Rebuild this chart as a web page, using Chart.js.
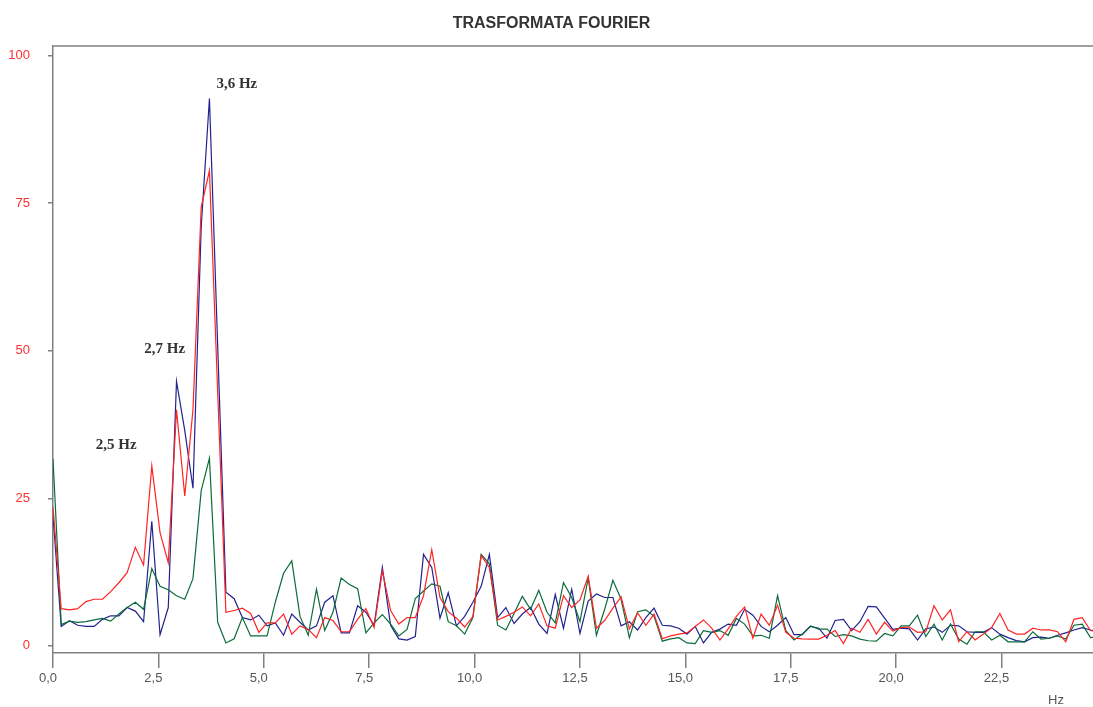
<!DOCTYPE html>
<html>
<head>
<meta charset="utf-8">
<title>Trasformata Fourier</title>
<script src="https://cdn.jsdelivr.net/npm/chart.js@4.4.0/dist/chart.umd.min.js"></script>
<style>
    html, body { margin: 0; padding: 0; background: #fff; }
    #wrapper { width: 1093px; height: 707px; position: relative; }
</style>
</head>
<body>
<div id="wrapper">
    <canvas id="fftChart"></canvas>
</div>
<script>
// FFT bin width (Hz)
const BIN_HZ = 0.1953125

const redSeries = [
    23.5, 6.3, 6.1, 6.3, 7.5, 7.9, 7.9, 9.2, 10.7, 12.4,
    16.7, 13.7, 30.5, 19.2, 14.1, 40.0, 25.4, 40.0, 74.3, 80.5,
    43.1, 5.7, 6.0, 6.4, 5.5, 2.3, 3.9, 3.9, 5.4, 2.0,
    3.4, 2.8, 1.4, 4.8, 4.3, 2.4, 2.4, 4.5, 6.3, 3.1,
    12.7, 6.0, 3.7, 4.8, 4.8, 8.5, 16.3, 8.2, 5.8, 4.7,
    3.2, 5.0, 15.3, 13.3, 4.4, 5.0, 5.7, 6.6, 5.1, 7.1,
    3.4, 3.0, 8.5, 6.5, 7.8, 11.8, 3.0, 4.3, 6.4, 8.3,
    2.9, 5.6, 3.5, 5.4, 1.2, 1.7, 2.0, 2.2, 3.3, 4.4,
    3.0, 1.0, 2.9, 5.0, 6.6, 1.3, 5.4, 3.5, 6.9, 2.3,
    1.3, 1.2, 1.15, 1.15, 1.8, 2.6, 0.4, 3.0, 2.3, 4.5,
    2.0, 4.0, 2.5, 3.1, 3.2, 2.3, 2.4, 6.8, 4.4, 6.1,
    0.7, 2.4, 1.0, 2.0, 3.1, 5.5, 2.7, 2.0, 2.0, 3.0,
    2.7, 2.7, 2.4, 0.7, 4.5, 4.8, 2.6, 2.4
]

const blueSeries = [
    22.0, 3.3, 4.25, 3.5, 3.3, 3.3, 4.5, 5.1, 5.1, 6.5,
    5.9, 4.1, 21.1, 1.9, 6.5, 44.8, 36.5, 26.7, 71.0, 92.7,
    50.9, 9.1, 8.0, 4.8, 4.4, 5.2, 3.4, 3.9, 1.8, 5.4,
    4.0, 2.7, 3.4, 7.4, 8.5, 2.2, 2.2, 6.8, 5.7, 3.5,
    13.3, 3.5, 1.2, 1.0, 1.6, 15.5, 13.3, 4.7, 9.0, 3.4,
    5.0, 7.4, 10.1, 15.5, 4.8, 6.5, 3.8, 5.4, 6.5, 3.7,
    2.1, 8.7, 3.0, 9.6, 2.1, 7.6, 8.8, 8.2, 8.2, 3.4,
    4.1, 2.7, 4.8, 6.4, 3.5, 3.4, 3.0, 2.0, 3.3, 0.5,
    2.3, 2.85, 3.7, 3.5, 6.2, 5.2, 3.3, 2.4, 3.5, 4.8,
    1.9, 1.9, 3.3, 3.0, 1.3, 4.3, 4.5, 2.6, 4.1, 6.7,
    6.6, 4.7, 2.8, 3.0, 2.9, 1.0, 2.9, 3.2, 2.3, 3.5,
    3.4, 2.4, 2.3, 2.3, 3.1, 2.0, 1.4, 0.9, 0.7, 1.4,
    1.5, 1.3, 1.8, 2.2, 2.7, 3.1, 2.7, 2.5
]

const greenSeries = [
    31.7, 3.6, 4.2, 4.0, 4.1, 4.4, 4.65, 4.2, 5.4, 6.5,
    7.4, 6.2, 13.1, 10.1, 9.5, 8.5, 7.9, 11.4, 26.3, 31.8,
    4.0, 0.5, 1.2, 4.8, 1.7, 1.7, 1.7, 7.4, 12.3, 14.4,
    5.0, 1.8, 9.6, 2.6, 5.7, 11.5, 10.4, 9.7, 2.2, 3.9,
    5.3, 3.7, 1.7, 2.8, 8.0, 9.3, 10.5, 10.1, 4.1, 3.4,
    2.0, 4.8, 15.5, 13.9, 3.5, 2.7, 5.5, 8.4, 6.2, 9.4,
    5.7, 3.9, 10.7, 8.2, 4.1, 11.5, 1.8, 6.2, 11.1, 7.9,
    1.4, 5.8, 6.1, 5.0, 0.8, 1.2, 1.4, 0.5, 0.4, 2.6,
    2.3, 2.6, 1.8, 4.65, 3.7, 1.7, 1.8, 1.3, 8.5, 2.6,
    1.0, 2.0, 3.4, 2.85, 2.85, 1.6, 1.9, 1.7, 1.15, 0.87,
    0.8, 2.1, 1.7, 3.4, 3.4, 5.2, 1.6, 3.7, 1.0, 3.7,
    1.15, 0.3, 2.4, 2.4, 1.0, 1.8, 0.7, 0.7, 0.7, 2.4,
    1.15, 1.3, 1.7, 1.15, 3.5, 3.7, 1.4, 1.6
]

const xTicks = [0, 2.5, 5, 7.5, 10, 12.5, 15, 17.5, 20, 22.5]
const yTicks = [0, 25, 50, 75, 100]

// peak annotations, placed in data units
const peakText = ["2,5 Hz", "2,7 Hz", "3,6 Hz"]
const peakHz = [1.5, 2.65, 4.36]
const peakAmp = [34.0, 50.2, 95.1]

const TITLE = "TRASFORMATA FOURIER"
const AXIS_GREY = "#808080"

const toPoints = (values) => values.map((v, i) => ({x: i * BIN_HZ, y: v}))
const commaFmt = (v) => Number(v).toFixed(1).replace(".", ",")

const lineDataset = (label, values, color) => ({
    label: label,
    data: toPoints(values),
    borderColor: color,
    borderWidth: 1.2,
    pointRadius: 0,
    tension: 0,
    fill: false
})

// title, top frame line, peak labels and unit label
const textPlugin = {
    id: "fourierText",
    afterDraw(chart) {
        const {ctx, chartArea: area, scales: {x, y}} = chart
        ctx.save()

        ctx.strokeStyle = AXIS_GREY
        ctx.lineWidth = 1.5
        ctx.beginPath()
        ctx.moveTo(area.left, area.top)
        ctx.lineTo(area.right, area.top)
        ctx.stroke()

        ctx.fillStyle = "#333"
        ctx.textAlign = "center"
        ctx.textBaseline = "middle"
        ctx.font = "bold 16px 'Liberation Sans', Arial, sans-serif"
        ctx.fillText(TITLE, chart.width / 2 + 5, 24)

        ctx.font = "bold 15px 'Liberation Serif', 'Times New Roman', serif"
        peakText.forEach((txt, i) => {
            ctx.fillText(txt, x.getPixelForValue(peakHz[i]), y.getPixelForValue(peakAmp[i]))
        })

        ctx.fillStyle = "#555"
        ctx.font = "13px 'Liberation Sans', Arial, sans-serif"
        ctx.fillText("Hz", area.right - 37, chart.height - 7)
        ctx.restore()
    }
}

const ctx = document.getElementById("fftChart").getContext("2d")
new Chart(ctx, {
    type: "line",
    data: {
        datasets: [
            lineDataset("Rosso", redSeries, "#ff2424"),
            lineDataset("Verde", greenSeries, "#0b6b3a"),
            lineDataset("Blu", blueSeries, "#22228f")
        ]
    },
    options: {
        responsive: true,
        maintainAspectRatio: false,
        animation: false,
        layout: { padding: { top: 46, right: 0, bottom: 0, left: 0 } },
        plugins: {
            legend: { display: false },
            title: { display: false },
            tooltip: { enabled: false }
        },
        scales: {
            x: {
                type: "linear",
                min: 0,
                max: 24.67,
                afterBuildTicks: (scale) => { scale.ticks = xTicks.map(v => ({value: v})) },
                afterFit: (scale) => { scale.height = 54 },
                border: { display: true, color: AXIS_GREY, width: 1.5 },
                grid: { drawOnChartArea: false, tickLength: 15, color: AXIS_GREY, lineWidth: 1.5 },
                ticks: {
                    color: "#555",
                    font: { size: 13, family: "'Liberation Sans', Arial, sans-serif" },
                    padding: 3,
                    labelOffset: -5,
                    maxRotation: 0,
                    autoSkip: false,
                    callback: commaFmt
                }
            },
            y: {
                min: -1.2,
                max: 101.6,
                afterBuildTicks: (scale) => { scale.ticks = yTicks.map(v => ({value: v})) },
                afterFit: (scale) => { scale.width = 53 },
                border: { display: true, color: AXIS_GREY, width: 1.5 },
                grid: { drawOnChartArea: false, tickLength: 5, color: AXIS_GREY, lineWidth: 1.5 },
                ticks: {
                    color: "#ff3030",
                    font: { size: 13, family: "'Liberation Sans', Arial, sans-serif" },
                    padding: 18
                }
            }
        }
    },
    plugins: [textPlugin]
})
</script>
</body>
</html>
